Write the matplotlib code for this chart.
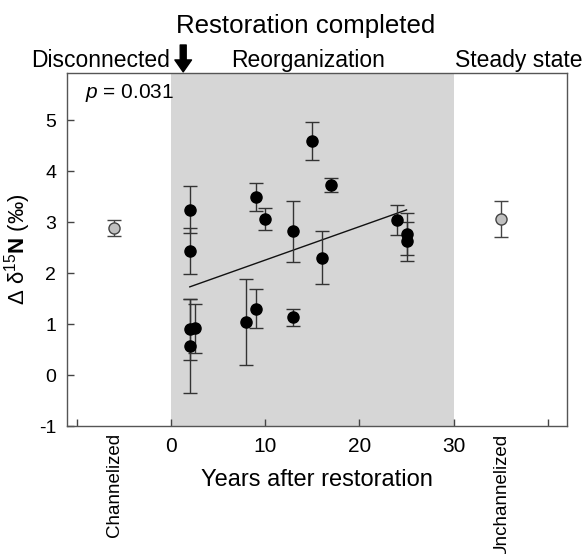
import matplotlib
matplotlib.use("Agg")
import matplotlib.pyplot as plt
import numpy as np

plt.rcParams['font.family'] = ['Liberation Sans', 'DejaVu Sans']
plt.rcParams['mathtext.fontset'] = 'custom'
plt.rcParams['mathtext.rm'] = 'Liberation Sans'
plt.rcParams['mathtext.it'] = 'Liberation Sans:italic'
plt.rcParams['mathtext.bf'] = 'Liberation Sans:bold'
plt.rcParams['axes.unicode_minus'] = False

# ---- data ----
years = [2, 2, 2, 2, 2.5, 8, 9, 9, 10, 13, 13, 15, 16, 17, 24, 25, 25]
d15n = [3.24, 2.44, 0.90, 0.57, 0.92, 1.04, 3.49, 1.30, 3.06, 2.82, 1.13, 4.59, 2.30, 3.73, 3.04, 2.77, 2.62]
d15n_err = [0.46, 0.45, 0.60, 0.92, 0.48, 0.85, 0.27, 0.38, 0.22, 0.60, 0.17, 0.38, 0.52, 0.13, 0.29, 0.41, 0.38]

ref_labels = ['Channelized', 'Unchannelized']
ref_x = [-6, 35]
ref_y = [2.89, 3.06]
ref_err = [0.16, 0.36]

fit_x = [2, 25]
fit_y = [1.73, 3.24]

xticks = [-10, 0, 10, 20, 30, 40]
xticklabels = ['', '0', '10', '20', '30', '']
yticks = [-1, 0, 1, 2, 3, 4, 5]

W, H = 583, 554
fig = plt.figure(figsize=(W / 100, H / 100), dpi=100)
ax = fig.add_axes([67.3 / W, 1 - 426 / H, (566.7 - 67.3) / W, (426 - 73.3) / H])

ax.axvspan(0, 30, color='#d6d6d6', zorder=0, lw=0)

ax.plot(fit_x, fit_y, color='#111111', lw=1.0, zorder=2)

ax.errorbar(years, d15n, yerr=d15n_err, fmt='o', color='black', ms=8,
            ecolor='#333333', elinewidth=1.0, capsize=5, capthick=1.0, zorder=3)
ax.errorbar(ref_x, ref_y, yerr=ref_err, fmt='o', mfc='#c0c0c0', mec='#444444',
            mew=1.0, ms=8, ecolor='#444444', elinewidth=1.0, capsize=5, capthick=1.0, zorder=3)

ax.set_xlim(-11, 42)
ax.set_ylim(-1, 5.92)
ax.set_xticks(xticks)
ax.set_xticklabels(xticklabels, fontsize=15)
ax.set_yticks(yticks)
ax.set_yticklabels([str(v) for v in yticks], fontsize=14)
ax.tick_params(direction='in', length=5, width=1, color='#444444')
ax.tick_params(axis='x', pad=8)
ax.tick_params(axis='y', pad=8)
for s in ['top', 'right', 'bottom', 'left']:
    ax.spines[s].set_color('#555555')
    ax.spines[s].set_linewidth(1.0)

for lab, xv in zip(ref_labels, ref_x):
    ax.text(xv, -0.02, lab, transform=ax.get_xaxis_transform(), rotation=90,
            ha='center', va='top', fontsize=13.5)

ax.set_xlabel('Years after restoration', fontsize=17, labelpad=9)
ax.set_ylabel(r'Δ δ$^{15}$$\mathbf{N}$ (‰)', fontsize=16, labelpad=4)

ax.text(0.035, 0.975, r'$p$ = 0.031', transform=ax.transAxes, ha='left', va='top', fontsize=15)

def fx(px):
    return px / W

def fy(py):
    return 1 - py / H

fig.text(fx(306), fy(33), 'Restoration completed', ha='center', va='baseline', fontsize=18.6)
fig.text(fx(101), fy(67), 'Disconnected', ha='center', va='baseline', fontsize=16.5)
fig.text(fx(308.5), fy(67), 'Reorganization', ha='center', va='baseline', fontsize=16.5)
fig.text(fx(519), fy(67), 'Steady state', ha='center', va='baseline', fontsize=16.5)

ax.annotate('', xy=(1.3, 1.004), xycoords=('data', 'axes fraction'),
            xytext=(1.3, (426 - 45) / (426 - 73.3)), textcoords=('data', 'axes fraction'),
            arrowprops=dict(facecolor='black', edgecolor='black', width=4.3, headwidth=12,
                            headlength=8.6, shrink=0),
            annotation_clip=False)

fig.savefig('out.png', dpi=100)
